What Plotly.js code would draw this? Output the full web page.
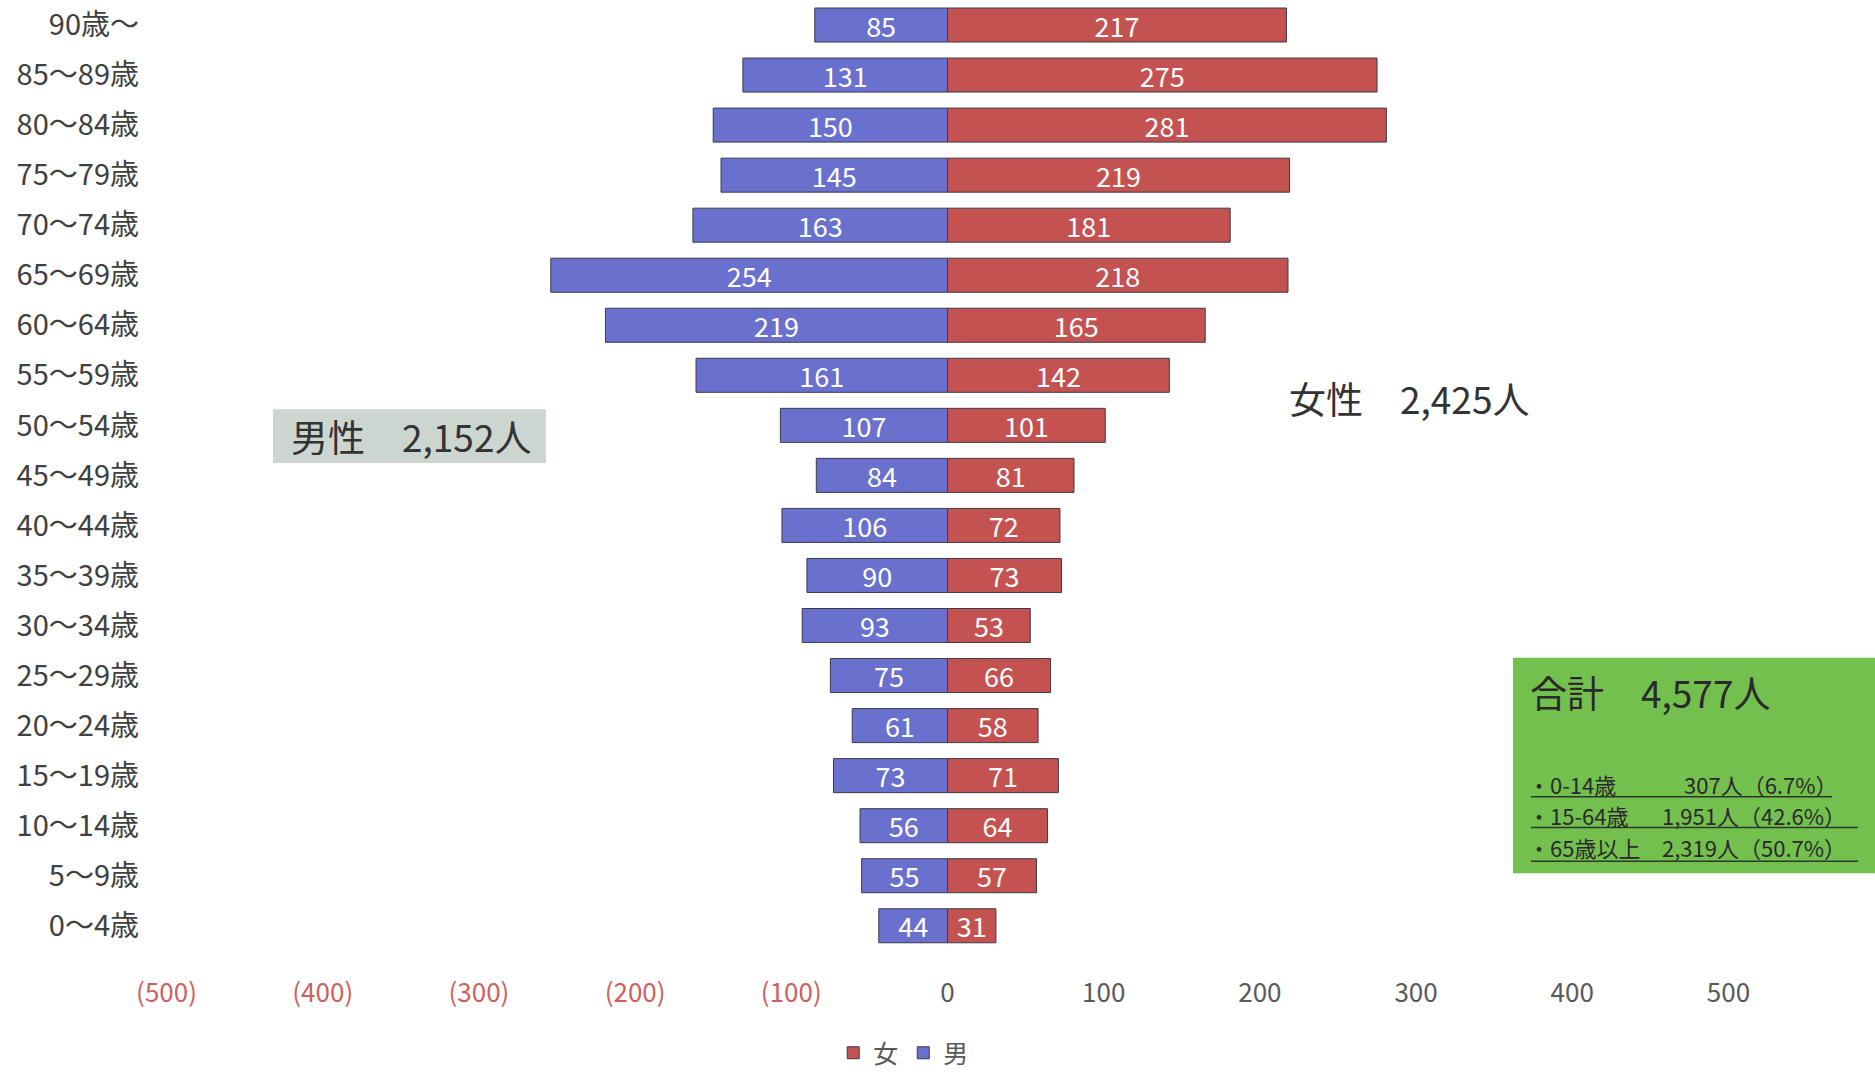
<!DOCTYPE html>
<html>
<head>
<meta charset="utf-8">
<script src="https://cdn.plot.ly/plotly-3.0.1.min.js"></script>
<style>html,body{margin:0;padding:0;background:#fff;}#chart{width:1875px;height:1076px;}</style>
</head>
<body>
<div id="chart"></div>
<script>
// ---- data ----
const ageGroups = ['0～4歳','5～9歳','10～14歳','15～19歳','20～24歳','25～29歳','30～34歳','35～39歳','40～44歳','45～49歳','50～54歳','55～59歳','60～64歳','65～69歳','70～74歳','75～79歳','80～84歳','85～89歳','90歳～'];
const male   = [44,55,56,73,61,75,93,90,106,84,107,161,219,254,163,145,150,131,85];
const female = [31,57,64,71,58,66,53,73,72,81,101,142,165,218,181,219,281,275,217];
const xTickVals   = [-500,-400,-300,-200,-100,0,100,200,300,400,500];
const xTickLabels = ['(500)','(400)','(300)','(200)','(100)','0','100','200','300','400','500'];
const seriesNames = ['女','男'];
const maleTotalText   = '男性　2,152人';
const femaleTotalText = '女性　2,425人';
const grandTotalText  = '合計　4,577人';
const breakdownLabels = ['・0-14歳','・15-64歳','・65歳以上'];
const breakdownValues = ['　307人（6.7%）','1,951人（42.6%）','2,319人（50.7%）'];

// ---- layout helpers ----
const W = 1875, H = 1076;
const px = x => x / W;
const py = y => 1 - y / H;
const JP = '"Noto Sans CJK JP", "Noto Sans", sans-serif';

const tickText = xTickLabels.map((t, i) =>
  xTickVals[i] < 0 ? '<span style="color:#d0605c">' + t + '</span>' : t);

const traces = [
  {
    type: 'bar', orientation: 'h', name: seriesNames[0],
    y: ageGroups, x: female, text: female.map(String),
    texttemplate: '%{text}', textposition: 'inside', insidetextanchor: 'middle',
    textangle: 0, constraintext: 'none',
    textfont: {color: '#ffffff', size: 27, family: JP},
    marker: {color: '#c45250', line: {color: '#3b3b4a', width: 1}},
    hoverinfo: 'skip'
  },
  {
    type: 'bar', orientation: 'h', name: seriesNames[1],
    y: ageGroups, x: male.map(v => -v), text: male.map(String),
    texttemplate: '%{text}', textposition: 'inside', insidetextanchor: 'middle',
    textangle: 0, constraintext: 'none',
    textfont: {color: '#ffffff', size: 27, family: JP},
    marker: {color: '#6a70cd', line: {color: '#3b3b4a', width: 1}},
    hoverinfo: 'skip'
  }
];

const boxLineY = [802, 833, 867];
const boxLineEnd = [1832, 1858, 1858];
const textY = [789, 820, 853];

const shapes = [
  {type: 'rect', xref: 'paper', yref: 'paper', x0: px(1513), x1: px(1875), y0: py(879), y1: py(662),
   fillcolor: '#74c04f', line: {width: 0}, layer: 'below'},
  {type: 'rect', xref: 'paper', yref: 'paper', x0: px(273), x1: px(546), y0: py(466), y1: py(412),
   fillcolor: '#cdd5d1', line: {width: 0}, layer: 'below'}
];
boxLineY.forEach((y, i) => shapes.push({
  type: 'line', xref: 'paper', yref: 'paper', x0: px(1531), x1: px(boxLineEnd[i]), y0: py(y), y1: py(y),
  line: {color: '#2a3a2a', width: 1.5}
}));

const annotations = [
  {xref: 'paper', yref: 'paper', x: px(411), y: py(439), text: maleTotalText, showarrow: false,
   xanchor: 'center', yanchor: 'middle', font: {family: JP, size: 37, color: '#333333'}},
  {xref: 'paper', yref: 'paper', x: px(1409), y: py(401), text: femaleTotalText, showarrow: false,
   xanchor: 'center', yanchor: 'middle', font: {family: JP, size: 37, color: '#333333'}},
  {xref: 'paper', yref: 'paper', x: px(1528), y: py(697), text: grandTotalText, showarrow: false,
   xanchor: 'left', yanchor: 'middle', font: {family: JP, size: 37, color: '#2a2a2a'}}
];
breakdownLabels.forEach((t, i) => {
  annotations.push({xref: 'paper', yref: 'paper', x: px(1526), y: py(textY[i]), text: t, showarrow: false,
    xanchor: 'left', yanchor: 'middle', font: {family: JP, size: 22, color: '#2a2a2a'}});
  annotations.push({xref: 'paper', yref: 'paper', x: px(1660), y: py(textY[i]), text: breakdownValues[i], showarrow: false,
    xanchor: 'left', yanchor: 'middle', font: {family: JP, size: 22, color: '#2a2a2a'}});
});

const layout = {
  width: W, height: H,
  margin: {l: 0, r: 0, t: 0, b: 0},
  paper_bgcolor: '#ffffff', plot_bgcolor: 'rgba(0,0,0,0)',
  barmode: 'relative', bargap: 0.32,
  font: {family: JP, color: '#404040'},
  xaxis: {
    domain: [px(140), px(1755)], range: [-517, 517],
    tickvals: xTickVals, ticktext: tickText,
    showgrid: false, zeroline: false, showline: false, ticks: '',
    ticklabelstandoff: 24,
    tickfont: {family: JP, size: 26, color: '#595959'}, fixedrange: true
  },
  yaxis: {
    domain: [py(957), 1], automargin: false,
    showgrid: false, zeroline: false, showline: false, ticks: '',
    tickfont: {family: JP, size: 29, color: '#404040'}, fixedrange: true
  },
  showlegend: true,
  legend: {
    orientation: 'h', x: 0.482, xanchor: 'center', y: py(1060), yanchor: 'middle',
    font: {family: JP, size: 25, color: '#595959'}, traceorder: 'normal',
    itemwidth: 30, bgcolor: 'rgba(0,0,0,0)'
  },
  shapes: shapes,
  annotations: annotations
};

Plotly.newPlot('chart', traces, layout, {staticPlot: true, displayModeBar: false});
</script>
</body>
</html>
